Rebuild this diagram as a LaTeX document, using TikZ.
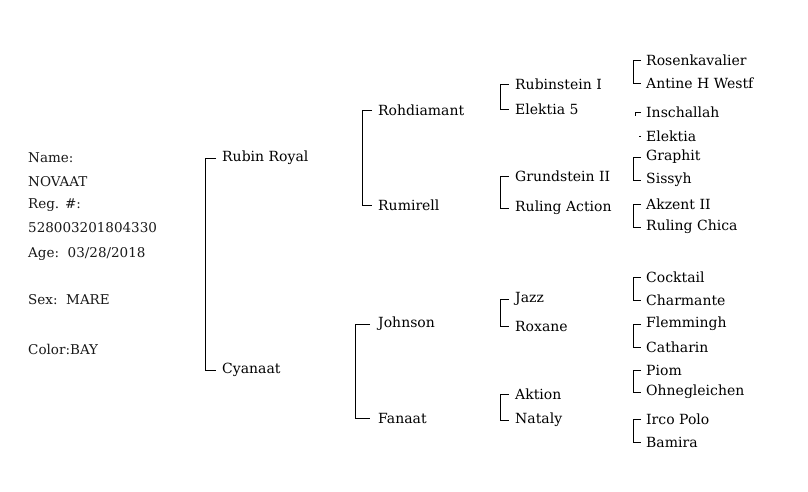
\documentclass[tikz,border=0pt]{standalone}
\usepackage{fontspec}
\setmainfont{DejaVu Serif}
\begin{document}
\begin{tikzpicture}[x=1pt,y=-1pt,
  nm/.style={anchor=west,inner sep=0pt,font=\fontsize{14}{14}\selectfont},
  info/.style={anchor=west,inner sep=0pt,font=\fontsize{13.5}{14}\selectfont,text=black!90}]
\useasboundingbox[fill=white] (0,0) rectangle (808,491);
\node[info] (i1) at (28,158) {Name:};
\node[info] (i2) at (28,182) {NOVAAT};
\node[info] (i3) at (28,205) {Reg. \#:};
\node[info] (i4) at (28,228) {528003201804330};
\node[info] (i5) at (28,254) {Age:\ \ 03/28/2018};
\node[info] (i6) at (28,300) {Sex:\ \ MARE};
\node[info] (i7) at (28,349) {Color:BAY};
% gen 1
\node[nm] (s) at (222,158) {Rubin Royal};
\node[nm] (d) at (222,370) {Cyanaat};
% gen 2
\node[nm] (ss) at (378,110) {Rohdiamant};
\node[nm] (sd) at (378,205) {Rumirell};
\node[nm] (ds) at (378,324) {Johnson};
\node[nm] (dd) at (378,418) {Fanaat};
% gen 3
\node[nm] (sss) at (515,84) {Rubinstein I};
\node[nm] (ssd) at (515,109) {Elektia 5};
\node[nm] (sds) at (515,176) {Grundstein II};
\node[nm] (sdd) at (515,208) {Ruling Action};
\node[nm] (dss) at (515,299) {Jazz};
\node[nm] (dsd) at (515,326) {Roxane};
\node[nm] (dds) at (515,394) {Aktion};
\node[nm] (ddd) at (515,420) {Nataly};
% gen 4
\node[nm] (g1) at (646,60) {Rosenkavalier};
\node[nm] (g2) at (646,83) {Antine H Westf};
\node[nm] (g3) at (646,112) {Inschallah};
\node[nm] (g4) at (646,136) {Elektia};
\node[nm] (g5) at (646,157) {Graphit};
\node[nm] (g6) at (646,180) {Sissyh};
\node[nm] (g7) at (646,204) {Akzent II};
\node[nm] (g8) at (646,227) {Ruling Chica};
\node[nm] (g9) at (646,277) {Cocktail};
\node[nm] (g10) at (646,300) {Charmante};
\node[nm] (g11) at (646,324) {Flemmingh};
\node[nm] (g12) at (646,347) {Catharin};
\node[nm] (g13) at (646,370) {Piom};
\node[nm] (g14) at (646,392) {Ohnegleichen};
\node[nm] (g15) at (646,419) {Irco Polo};
\node[nm] (g16) at (646,442) {Bamira};
\tikzset{br/.style={draw,line width=0.8pt}}
\draw[br] ([xshift=-6]s.west) -- ++(-11,0) |- ([xshift=-6]d.west);
\draw[br] ([xshift=-6]ss.west) -- ++(-10,0) |- ([xshift=-6]sd.west);
\draw[br] ([xshift=-8]ds.west) -- ++(-15,0) |- ([xshift=-8]dd.west);
\foreach \a/\b in {sss/ssd,sds/sdd,dss/dsd,dds/ddd}
  \draw[br] ([xshift=-6]\a.west) -- ++(-9,0) |- ([xshift=-6]\b.west);
\foreach \a/\b in {g1/g2,g5/g6,g7/g8,g9/g10,g11/g12,g13/g14,g15/g16}
  \draw[br] ([xshift=-5]\a.west) -- ++(-8,0) |- ([xshift=-5]\b.west);
\draw[br] ([xshift=-5]g3.west) -- ++(-6,0) -- ++(0,4);
\draw[br] ([xshift=-5]g4.west) -- ++(-2,0);
\end{tikzpicture}
\end{document}
